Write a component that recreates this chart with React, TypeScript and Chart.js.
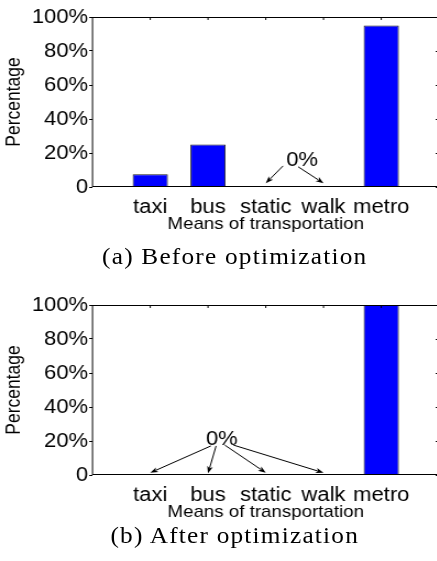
import { useEffect, useRef } from 'react';
import { Chart, registerables } from 'chart.js';

Chart.register(...registerables);

// ---- data ----
const categories = ['taxi', 'bus', 'static', 'walk', 'metro'];
const beforeShares = [7.5, 25, 0, 0, 95];
const afterShares = [0, 0, 0, 0, 100];
const percentTicks = [0, 20, 40, 60, 80, 100];
const xTitle = 'Means of transportation';
const yTitle = 'Percentage';
const captionBefore = '(a) Before optimization';
const captionAfter = '(b) After optimization';

// "0%" callouts in data units: label anchor and arrows [fromX, fromY, toX, toY]
type Callout = { text: string; at: [number, number]; arrows: [number, number, number, number][] };
const beforeCallout: Callout = {
  text: '0%',
  at: [3.63, 12.1],
  arrows: [
    [3.3, 12.4, 3, 2.2],
    [3.56, 11.9, 4, 2.2],
  ],
};
const afterCallout: Callout = {
  text: '0%',
  at: [2.24, 17.6],
  arrows: [
    [2.05, 17.1, 1, 1.3],
    [2.14, 17.1, 2, 1.0],
    [2.29, 17.6, 3, 1.3],
    [2.44, 17.6, 4, 1.3],
  ],
};

const SANS = "'Liberation Sans', Arial, Helvetica, sans-serif";
const SERIF = "'Liberation Serif', 'Times New Roman', serif";
const CANVAS_W = 405;
const CANVAS_H = 240;

function framePlugin(callout: Callout) {
  return {
    id: 'frameAndCallout',
    afterDatasetsDraw(chart: any) {
      const { ctx, chartArea, scales } = chart;
      const { left, right, top, bottom } = chartArea;
      const x = scales.x;
      const y = scales.y;
      ctx.save();
      ctx.strokeStyle = '#000';
      ctx.fillStyle = '#000';
      ctx.lineWidth = 1;
      // axes box
      ctx.strokeRect(left, top + 0.5, right - left, bottom - top - 1);
      // inward ticks on the top edge
      ctx.beginPath();
      categories.forEach((_, i) => {
        const px = x.getPixelForValue(i + 1);
        ctx.moveTo(px, top);
        ctx.lineTo(px, top + 3);
      });
      // inward ticks on the right edge
      percentTicks.forEach((v) => {
        const py = Math.round(y.getPixelForValue(v)) + 0.5;
        ctx.moveTo(right - 3, py);
        ctx.lineTo(right, py);
      });
      ctx.stroke();

      // callout text
      ctx.font = `20px ${SANS}`;
      ctx.textAlign = 'center';
      ctx.textBaseline = 'alphabetic';
      ctx.fillText(callout.text, x.getPixelForValue(callout.at[0]), y.getPixelForValue(callout.at[1]));

      // callout arrows
      callout.arrows.forEach(([fx, fy, tx, ty]) => {
        const x0 = x.getPixelForValue(fx);
        const y0 = y.getPixelForValue(fy);
        const x1 = x.getPixelForValue(tx);
        const y1 = y.getPixelForValue(ty);
        const ang = Math.atan2(y1 - y0, x1 - x0);
        const len = 7;
        const half = 2.6;
        ctx.beginPath();
        ctx.moveTo(x0, y0);
        ctx.lineTo(x1 - Math.cos(ang) * len * 0.8, y1 - Math.sin(ang) * len * 0.8);
        ctx.stroke();
        const bx = x1 - Math.cos(ang) * len;
        const by = y1 - Math.sin(ang) * len;
        ctx.beginPath();
        ctx.moveTo(x1, y1);
        ctx.lineTo(bx + Math.sin(ang) * half, by - Math.cos(ang) * half);
        ctx.lineTo(x1 - Math.cos(ang) * len * 0.75, y1 - Math.sin(ang) * len * 0.75);
        ctx.lineTo(bx - Math.sin(ang) * half, by + Math.cos(ang) * half);
        ctx.closePath();
        ctx.fill();
      });
      ctx.restore();
    },
  };
}

function ShareChart({ values, callout, top }: { values: number[]; callout: Callout; top: number }) {
  const ref = useRef<HTMLCanvasElement | null>(null);

  useEffect(() => {
    if (!ref.current) return;
    const chart = new Chart(ref.current, {
      type: 'bar',
      data: {
        datasets: [
          {
            data: values.map((v, i) => ({ x: i + 1, y: v })),
            backgroundColor: '#0000ff',
            borderColor: '#1a1a1a',
            borderWidth: 1,
            barPercentage: 0.61,
            categoryPercentage: 1,
          },
        ],
      },
      options: {
        animation: false,
        responsive: false,
        devicePixelRatio: 1,
        layout: { padding: { top: 17, right: CANVAS_W - 399.1, left: 0, bottom: 0 } },
        plugins: { legend: { display: false }, tooltip: { enabled: false } },
        scales: {
          x: {
            type: 'linear',
            min: 0,
            max: 6,
            offset: false,
            afterFit: (s: any) => {
              s.height = 53;
            },
            afterBuildTicks: (s: any) => {
              s.ticks = [0, 1, 2, 3, 4, 5, 6].map((v) => ({ value: v }));
            },
            ticks: {
              autoSkip: false,
              maxRotation: 0,
              padding: 0,
              color: '#000',
              font: { family: SANS, size: 20 },
              callback: (v: any) => categories[Number(v) - 1] ?? '',
            },
            grid: { display: false },
            border: { display: false },
            title: {
              display: true,
              text: xTitle,
              color: '#000',
              font: { family: SANS, size: 17 },
              padding: { top: 0, bottom: 5.5 },
            },
          },
          y: {
            min: 0,
            max: 100,
            afterFit: (s: any) => {
              s.width = 84.1;
            },
            afterBuildTicks: (s: any) => {
              s.ticks = percentTicks.map((v) => ({ value: v }));
            },
            ticks: {
              padding: 1,
              color: '#000',
              font: { family: SANS, size: 20 },
              callback: (v: any) => (Number(v) === 0 ? '0' : `${v}%`),
            },
            grid: { drawOnChartArea: false, tickLength: 3, color: '#000', lineWidth: 1 },
            border: { display: false },
            title: {
              display: true,
              text: yTitle,
              color: '#000',
              font: { family: SANS, size: 17.5 },
              padding: { top: 3, bottom: 0 },
            },
          },
        },
      },
      plugins: [framePlugin(callout)],
    });
    return () => chart.destroy();
  }, [values, callout]);

  return (
    <canvas
      ref={ref}
      width={CANVAS_W}
      height={CANVAS_H}
      style={{ position: 'absolute', left: 0, top, width: CANVAS_W, height: CANVAS_H }}
    />
  );
}

function Caption({ text, top }: { text: string; top: number }) {
  return (
    <div
      style={{
        position: 'absolute',
        left: 0,
        top,
        width: 426.8,
        textAlign: 'center',
        fontFamily: SERIF,
        fontSize: 23,
        lineHeight: '22px',
        letterSpacing: '1.1px',
        color: '#000',
        whiteSpace: 'nowrap',
      }}
    >
      {text}
    </div>
  );
}

export default function App() {
  return (
    <div
      style={{
        position: 'fixed',
        left: 0,
        top: 0,
        width: 437,
        height: 561,
        overflow: 'hidden',
        background: '#fff',
      }}
    >
      <div
        style={{
          position: 'absolute',
          left: 0,
          top: 0,
          width: CANVAS_W,
          height: 561,
          transform: 'scaleX(1.1)',
          transformOrigin: '0 0',
        }}
      >
        <ShareChart values={beforeShares} callout={beforeCallout} top={0} />
        <Caption text={captionBefore} top={246} />
        <ShareChart values={afterShares} callout={afterCallout} top={288} />
        <Caption text={captionAfter} top={524.5} />
      </div>
    </div>
  );
}
